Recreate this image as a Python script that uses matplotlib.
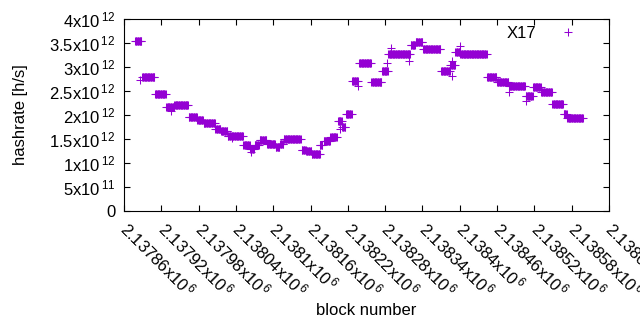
import matplotlib
matplotlib.use("Agg")
import matplotlib.pyplot as plt
import numpy as np

plt.rcParams['font.family'] = ['Liberation Sans', 'DejaVu Sans']
plt.rcParams['mathtext.fontset'] = 'custom'
plt.rcParams['mathtext.rm'] = 'Liberation Sans'
plt.rcParams['mathtext.default'] = 'rm'

# runs of equal hashrate: first block, last block, value
run_start = [2137878, 2137889, 2137910, 2137928, 2137941, 2137964, 2137978, 2137988,
             2138007, 2138016, 2138027, 2138052, 2138063, 2138070, 2138078, 2138090,
             2138104, 2138111, 2138117, 2138146, 2138153, 2138162, 2138176, 2138181,
             2138192, 2138204, 2138211, 2138217, 2138227, 2138238, 2138258, 2138275,
             2138285, 2138294, 2138321, 2138329, 2138341, 2138370, 2138385, 2138393,
             2138401, 2138444, 2138460, 2138479, 2138506, 2138518, 2138531, 2138549,
             2138567, 2138573]
run_end = [2137888, 2137909, 2137927, 2137940, 2137963, 2137977, 2137987, 2138006,
           2138015, 2138026, 2138051, 2138062, 2138069, 2138077, 2138089, 2138103,
           2138110, 2138116, 2138144, 2138152, 2138161, 2138175, 2138179, 2138191,
           2138202, 2138210, 2138216, 2138226, 2138236, 2138257, 2138274, 2138284,
           2138293, 2138320, 2138328, 2138340, 2138369, 2138384, 2138392, 2138400,
           2138443, 2138459, 2138478, 2138505, 2138517, 2138530, 2138548, 2138566,
           2138572, 2138598]
run_value = [3.55e12, 2.79e12, 2.44e12, 2.17e12, 2.21e12, 1.96e12, 1.90e12, 1.84e12,
             1.71e12, 1.67e12, 1.57e12, 1.37e12, 1.29e12, 1.38e12, 1.47e12, 1.40e12,
             1.34e12, 1.40e12, 1.49e12, 1.28e12, 1.25e12, 1.18e12, 1.37e12, 1.46e12,
             1.54e12, 1.87e12, 1.76e12, 2.02e12, 2.70e12, 3.08e12, 2.68e12, 2.92e12,
             3.27e12, 3.27e12, 3.45e12, 3.52e12, 3.37e12, 2.91e12, 3.05e12, 3.32e12,
             3.27e12, 2.80e12, 2.69e12, 2.61e12, 2.40e12, 2.59e12, 2.48e12, 2.23e12,
             2.02e12, 1.94e12]

# single scattered points
odd_block = [2137886, 2137936, 2138065, 2138208, 2138236, 2138283, 2138290, 2138318,
             2138387, 2138388, 2138400, 2138479, 2138506, 2138175, 2138034]
odd_value = [2.73e12, 2.09e12, 1.22e12, 1.71e12, 2.61e12, 3.09e12, 3.40e12, 3.13e12,
             2.82e12, 3.13e12, 3.44e12, 2.48e12, 2.30e12, 1.37e12, 1.53e12]

x_ticks = [2137860 + 60 * i for i in range(14)]
y_ticks = [0, 0.5e12, 1e12, 1.5e12, 2e12, 2.5e12, 3e12, 3.5e12, 4e12]
y_labels = ['0', r'5x10$^{\,11}$', r'1x10$^{\,12}$', r'1.5x10$^{\,12}$', r'2x10$^{\,12}$',
            r'2.5x10$^{\,12}$', r'3x10$^{\,12}$', r'3.5x10$^{\,12}$', r'4x10$^{\,12}$']

blocks = []
values = []
for s, e, v in zip(run_start, run_end, run_value):
    for b in range(s, e + 1):
        blocks.append(b)
        values.append(v)
blocks += odd_block
values += odd_value

fig = plt.figure(figsize=(6.4, 3.3), dpi=100)
ax = fig.add_axes([124 / 640, 1 - 211 / 330, (609 - 124) / 640, (211 - 19) / 330])

ax.plot(blocks, values, linestyle='none', marker='+', color='#9400d3',
        markersize=5.4, markeredgewidth=0.75, label='X17')

ax.set_xlim(2137860, 2138640)
ax.set_ylim(0, 4e12)
ax.set_xticks(x_ticks)
ax.set_xticklabels([r'%gx10$^{\,6}$' % (t / 1e6) for t in x_ticks],
                   rotation=-45, ha='left', va='center', rotation_mode='anchor')
ax.set_yticks(y_ticks)
ax.set_yticklabels(y_labels)
ax.tick_params(direction='in', length=4, width=0.8, top=True, right=True,
               labelsize=12, colors='black')
ax.tick_params(axis='x', pad=10)
ax.tick_params(axis='y', pad=6)
for sp in ax.spines.values():
    sp.set_linewidth(0.8)

ax.set_xlabel('block number', fontsize=12, labelpad=2)
ax.set_ylabel('hashrate [h/s]', fontsize=12, labelpad=15)

ax.legend(loc='upper right', frameon=False, markerfirst=False, fontsize=12,
          bbox_to_anchor=(0.981, 1.04), handlelength=2.0, handletextpad=0.9)

fig.savefig('out.png', dpi=100)
